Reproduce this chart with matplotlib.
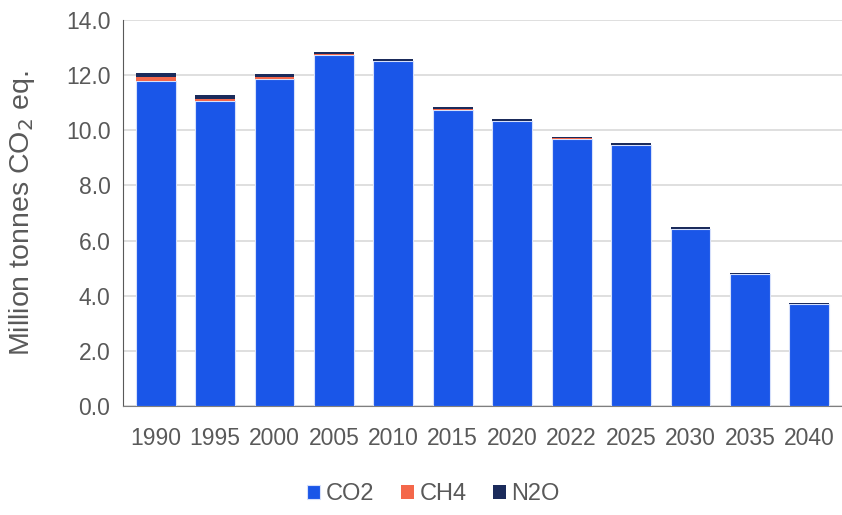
import matplotlib
matplotlib.use("Agg")
import matplotlib.pyplot as plt
import numpy as np

years = ["1990", "1995", "2000", "2005", "2010", "2015", "2020", "2022", "2025", "2030", "2035", "2040"]
co2 = [11.80, 11.05, 11.87, 12.74, 12.50, 10.74, 10.33, 9.70, 9.47, 6.42, 4.77, 3.69]
ch4 = [0.15, 0.10, 0.07, 0.02, 0.02, 0.02, 0.01, 0.01, 0.01, 0.01, 0.01, 0.01]
n2o = [0.13, 0.13, 0.10, 0.08, 0.07, 0.07, 0.07, 0.06, 0.06, 0.07, 0.05, 0.05]

plt.rcParams['font.family'] = ['Liberation Sans', 'DejaVu Sans']

fig = plt.figure(figsize=(8.42, 5.15), dpi=100)
ax = fig.add_axes([123/842, 1 - 406/515, (842 - 123)/842, (406 - 20)/515])

x = np.arange(len(years))
w = 0.67
edge = dict(edgecolor="#d6e0fb", linewidth=0.8)
ax.bar(x, co2, w, color="#1a56e8", label="CO2", zorder=3, **edge)
ax.bar(x, ch4, w, bottom=co2, color="#f4674a", label="CH4", zorder=3, linewidth=0)
bottom2 = np.array(co2) + np.array(ch4)
ax.bar(x, n2o, w, bottom=bottom2, color="#1b2b5b", label="N2O", zorder=3, linewidth=0)

ax.set_ylim(0, 14)
ax.set_xlim(-0.55, len(years) - 0.45)
ax.set_yticks(np.arange(0, 14.1, 2))
ax.set_yticklabels([f"{v:.1f}" for v in np.arange(0, 14.1, 2)])
ax.set_xticks(x)
ax.set_xticklabels(years)
ax.tick_params(axis="both", colors="#595959", labelsize=16.5, length=0)
ax.tick_params(axis="y", pad=9)
ax.tick_params(axis="x", pad=15)
ax.yaxis.grid(True, color="#d9d9d9", linewidth=1.2, zorder=0)
ax.set_axisbelow(True)
for s in ["top", "right"]:
    ax.spines[s].set_visible(False)
ax.spines["left"].set_color("#595959")
ax.spines["bottom"].set_color("#7f7f7f")

ax.set_ylabel("Million tonnes CO$_2$ eq.", color="#595959", fontsize=20.5)
ax.yaxis.set_label_coords(-0.12, 0.5)

fig.legend(loc="lower center", bbox_to_anchor=(0.515, -0.022), ncol=3, frameon=False,
           fontsize=17, handlelength=0.55, handleheight=0.55, handletextpad=0.25,
           columnspacing=1.1, labelcolor="#595959")

fig.savefig("out.png", dpi=100)
